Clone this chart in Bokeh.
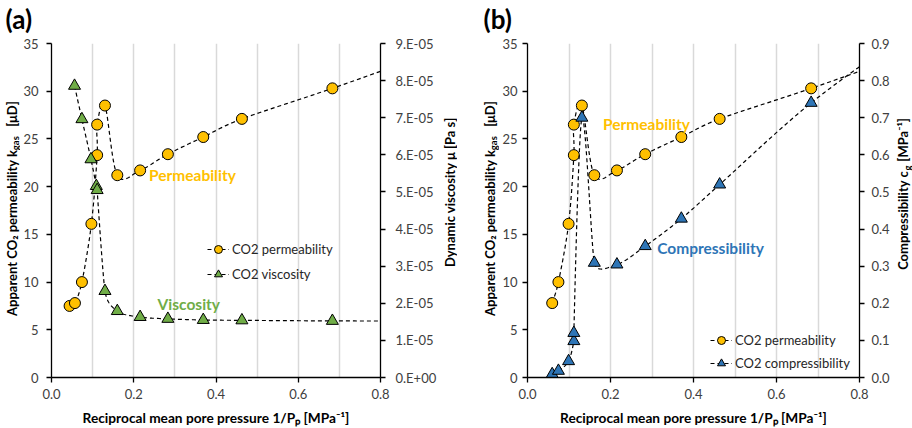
import math
from bokeh.plotting import figure
from bokeh.models import (Range1d, LinearAxis, FixedTicker, CustomJSTickFormatter,
                          NumeralTickFormatter, Label, Legend, LegendItem)
from bokeh.layouts import row, column
from bokeh.embed import file_html
from bokeh.resources import INLINE

# ---------------- data ----------------
# panel (a): permeability vs 1/Pp, and CO2 viscosity
perm_x_a = [0.044, 0.057, 0.074, 0.097, 0.111, 0.111, 0.130, 0.160, 0.2155, 0.283, 0.369, 0.463, 0.683, 0.93]
perm_a   = [7.5, 7.8, 10.0, 16.1, 23.3, 26.5, 28.5, 21.2, 21.7, 23.4, 25.2, 27.1, 30.3, 34.1]
visc_x   = [0.056, 0.074, 0.096, 0.109, 0.111, 0.130, 0.160, 0.2155, 0.283, 0.369, 0.463, 0.683, 0.93]
visc     = [7.86e-5, 6.96e-5, 5.88e-5, 5.16e-5, 5.05e-5, 2.33e-5, 1.79e-5, 1.63e-5, 1.58e-5,
            1.55e-5, 1.54e-5, 1.525e-5, 1.52e-5]
# panel (b): permeability and CO2 compressibility
perm_x_b = [0.0595, 0.0745, 0.099, 0.1117, 0.1117, 0.131, 0.161, 0.2155, 0.2836, 0.3707, 0.463, 0.6835, 0.93]
perm_b   = [7.8, 10.0, 16.1, 23.3, 26.5, 28.5, 21.2, 21.7, 23.4, 25.2, 27.1, 30.3, 34.1]
comp_x   = [0.0595, 0.0745, 0.099, 0.1117, 0.1117, 0.131, 0.161, 0.2155, 0.2837, 0.3707, 0.463, 0.6835, 0.93]
comp     = [0.009, 0.018, 0.044, 0.098, 0.120, 0.700, 0.309, 0.3045, 0.354, 0.428, 0.520, 0.740, 0.94]

x_ticks = [0.0, 0.2, 0.4, 0.6, 0.8]
x_grid = [0.1, 0.2, 0.3, 0.4, 0.5, 0.6, 0.7]
perm_ticks = [0, 5, 10, 15, 20, 25, 30, 35]
visc_ticks = [i * 1e-5 for i in range(10)]
comp_ticks = [i / 10 for i in range(10)]

FONT = "Lato"
GOLD = "#FFC000"
GREEN = "#70AD47"
BLUE = "#2E75B6"
TICK_COLOR = "#404040"

TOP_H = 35          # height of the strip holding "(a)" / "(b)"
MAIN_H = 428 - TOP_H
FRAME_W = 337
FRAME_H = 334
X_MAX = 0.8


def smooth(xs, ys, y_max, n=24):
    """Excel-like smoothed line: Bezier segments with tangents (P[i+1]-P[i-1])/6,
    shortened (in screen space) so a handle never exceeds half of the neighbouring segment."""
    kx = FRAME_W / X_MAX
    ky = FRAME_H / y_max
    pts = [(x * kx, y * ky) for x, y in zip(xs, ys)]
    m = len(pts)

    def dist(a, b):
        return math.hypot(a[0] - b[0], a[1] - b[1])

    def handle(i):
        prev = pts[i - 1] if i > 0 else pts[i]
        nxt = pts[i + 1] if i + 1 < m else pts[i]
        d02 = dist(prev, nxt)
        if d02 == 0:
            return (0.0, 0.0)
        f = 1 / 6
        segs = [d for d in (dist(prev, pts[i]), dist(pts[i], nxt)) if d > 0]
        lim = min(segs) / 2 if segs else 0
        if d02 * f > lim:
            f = lim / d02
        return ((nxt[0] - prev[0]) * f, (nxt[1] - prev[1]) * f)

    hs = [handle(i) for i in range(m)]
    ox, oy = [], []
    for i in range(m - 1):
        p1, p2 = pts[i], pts[i + 1]
        c1 = (p1[0] + hs[i][0], p1[1] + hs[i][1])
        c2 = (p2[0] - hs[i + 1][0], p2[1] - hs[i + 1][1])
        for k in range(n + 1):
            if i > 0 and k == 0:
                continue
            t = k / n
            a, b, c, d = (1 - t) ** 3, 3 * (1 - t) ** 2 * t, 3 * (1 - t) * t ** 2, t ** 3
            ox.append((a * p1[0] + b * c1[0] + c * c2[0] + d * p2[0]) / kx)
            oy.append((a * p1[1] + b * c1[1] + c * c2[1] + d * p2[1]) / ky)
    return ox, oy


def style_axis(ax):
    ax.axis_line_color = "black"
    ax.axis_line_width = 1.3
    ax.major_tick_line_color = "black"
    ax.major_tick_line_width = 1.3
    ax.major_tick_out = 5
    ax.major_tick_in = 0
    ax.minor_tick_line_color = None
    ax.major_label_text_font = FONT
    ax.major_label_text_font_size = "13px"
    ax.major_label_text_color = TICK_COLOR


def base_fig(width, left, right):
    p = figure(width=width, height=MAIN_H, x_range=Range1d(0, X_MAX), y_range=Range1d(0, 35),
               output_backend="svg", toolbar_location=None,
               min_border_left=left, min_border_right=right,
               min_border_top=8, min_border_bottom=51)
    p.outline_line_color = None
    p.background_fill_color = "white"
    p.border_fill_color = "white"
    p.ygrid.visible = False
    p.xgrid.ticker = FixedTicker(ticks=x_grid)
    p.xgrid.grid_line_color = "#d9d9d9"
    p.xgrid.grid_line_width = 1.5
    p.xaxis.ticker = FixedTicker(ticks=x_ticks)
    p.xaxis.formatter = NumeralTickFormatter(format="0.0")
    p.yaxis.ticker = FixedTicker(ticks=perm_ticks)
    for ax in p.xaxis + p.yaxis:
        style_axis(ax)
    p.xaxis.major_label_standoff = 6
    p.xaxis.axis_label = "Reciprocal mean pore pressure 1/Pₚ [MPa⁻¹]"
    p.xaxis.axis_label_text_font = FONT
    p.xaxis.axis_label_text_font_style = "bold"
    p.xaxis.axis_label_text_font_size = "13.7px"
    p.xaxis.axis_label_text_color = "black"
    p.xaxis.axis_label_standoff = 7
    return p


def strip(width, height):
    """A blank figure used only to hold text outside the chart frames."""
    s = figure(width=width, height=height, x_range=Range1d(0, width), y_range=Range1d(0, height),
               output_backend="svg", toolbar_location=None, x_axis_type=None, y_axis_type=None,
               min_border=0, title=None)
    s.outline_line_color = None
    s.background_fill_color = "white"
    s.border_fill_color = "white"
    s.grid.visible = False
    return s


def txt(p, text, x, y, size="13px", color="black", align="left", angle=0.0,
        baseline="alphabetic", units="data", style="bold"):
    lab = Label(x=x, y=y, x_units=units, y_units=units, text=text, angle=angle,
                text_font=FONT, text_font_size=size, text_font_style=style,
                text_color=color, text_align=align, text_baseline=baseline)
    p.add_layout(lab)
    return lab


def add_series(p, xs, ys, marker, color, y_max, y_range_name="default"):
    sx, sy = smooth(xs, ys, y_max)
    ln = p.line(sx, sy, line_color="black", line_width=1.2, line_dash="4 3",
                y_range_name=y_range_name)
    sc = p.scatter(xs, ys, marker=marker, size=11 if marker == "circle" else 12,
                   fill_color=color, line_color="black", line_width=1,
                   y_range_name=y_range_name)
    return ln, sc


def make_legend(p, items, loc, spacing):
    leg = Legend(items=items, location=loc, orientation="vertical",
                 background_fill_alpha=0, border_line_color=None,
                 label_text_font=FONT, label_text_font_size="13px", label_text_color="#262626",
                 glyph_width=22, glyph_height=20, label_height=20, spacing=spacing,
                 padding=0, margin=0, label_standoff=3)
    p.add_layout(leg)


PI2 = math.pi / 2
def Y(page_y):  # page y -> data y inside a strip of the main row
    return 428 - page_y


# ---------------- panel (a) ----------------
pa = base_fig(419, 28, 54)
pa.extra_y_ranges = {"visc": Range1d(0, 9e-5)}
ax_v = LinearAxis(y_range_name="visc", ticker=FixedTicker(ticks=visc_ticks),
                  formatter=CustomJSTickFormatter(code="""
if (Math.abs(tick) < 1e-15) { return "0.E+00"; }
const e = Math.floor(Math.log10(Math.abs(tick)) + 1e-6);
const m = Math.round(tick / Math.pow(10, e));
const ae = Math.abs(e);
return m + ".E" + (e < 0 ? "-" : "+") + (ae < 10 ? "0" + ae : "" + ae);
"""))
style_axis(ax_v)
ax_v.major_label_standoff = 10
pa.add_layout(ax_v, "right")
pa.yaxis[0].major_label_standoff = 8

lp, sp = add_series(pa, perm_x_a, perm_a, "circle", GOLD, 35)
lv, sv = add_series(pa, visc_x, visc, "triangle", GREEN, 9e-5, "visc")
make_legend(pa, [LegendItem(label="CO2 permeability", renderers=[lp, sp]),
                 LegendItem(label="CO2 viscosity", renderers=[lv, sv])], (156, 93), 5)
txt(pa, "Permeability", 0.237, 21.2, size="15.5px", color=GOLD, baseline="middle")
txt(pa, "Viscosity", 0.258, 7.7, size="15.5px", color=GREEN, baseline="middle", )

# left title strip of (a): page x 0..20
la = strip(20, MAIN_H)
txt(la, "Apparent CO₂ permeability k", 11.2, Y(160), align="right", angle=PI2)
txt(la, "gas", 15.2, Y(160.5), size="9.5px", angle=PI2)
txt(la, "[μD]", 11.2, Y(133), angle=PI2)
# right title strip of (a): page x 438..456
ra = strip(18, MAIN_H)
txt(ra, "Dynamic viscosity μ [Pa s]", 448.2 - 438, Y(210), align="center", angle=PI2)

# ---------------- panel (b) ----------------
pb = base_fig(393, 25, 31)
pb.extra_y_ranges = {"comp": Range1d(0, 0.9)}
ax_c = LinearAxis(y_range_name="comp", ticker=FixedTicker(ticks=comp_ticks),
                  formatter=NumeralTickFormatter(format="0.0"))
style_axis(ax_c)
ax_c.major_label_standoff = 7
pb.add_layout(ax_c, "right")
pb.yaxis[0].major_label_standoff = 5

lp2, sp2 = add_series(pb, perm_x_b, perm_b, "circle", GOLD, 35)
lc, sc = add_series(pb, comp_x, comp, "triangle", BLUE, 0.9, "comp")
make_legend(pb, [LegendItem(label="CO2 permeability", renderers=[lp2, sp2]),
                 LegendItem(label="CO2 compressibility", renderers=[lc, sc])], (183, 4), 3)
txt(pb, "Permeability", 0.182, 26.6, size="15.5px", color=GOLD, baseline="middle")
txt(pb, "Compressibility", 0.3125, 13.55, size="15.5px", color=BLUE, baseline="middle")

# left title strip of (b): page x 456..498
lb = strip(42, MAIN_H)
txt(lb, "Apparent CO₂ permeability k", 488.2 - 456, Y(160), align="right", angle=PI2)
txt(lb, "gas", 492.2 - 456, Y(160.5), size="9.5px", angle=PI2)
txt(lb, "[μD]", 488.2 - 456, Y(133), angle=PI2)
# right title strip of (b): page x 891..912
rb = strip(21, MAIN_H)
txt(rb, "Compressibility c", 901.8 - 891, Y(185), align="right", angle=PI2)
txt(rb, "g", 905.6 - 891, Y(184.5), size="9.5px", angle=PI2)
txt(rb, "[MPa⁻¹]", 901.8 - 891, Y(174), angle=PI2)

# ---------------- top strips with panel letters ----------------
ta = strip(456, TOP_H)
txt(ta, "(a)", 5, TOP_H - 18, size="26px")
tb = strip(456, TOP_H)
txt(tb, "(b)", 483 - 456, TOP_H - 18, size="26px")

layout = column(row(ta, tb), row(la, pa, ra, lb, pb, rb))
open("out.html", "w").write(file_html(layout, INLINE))
